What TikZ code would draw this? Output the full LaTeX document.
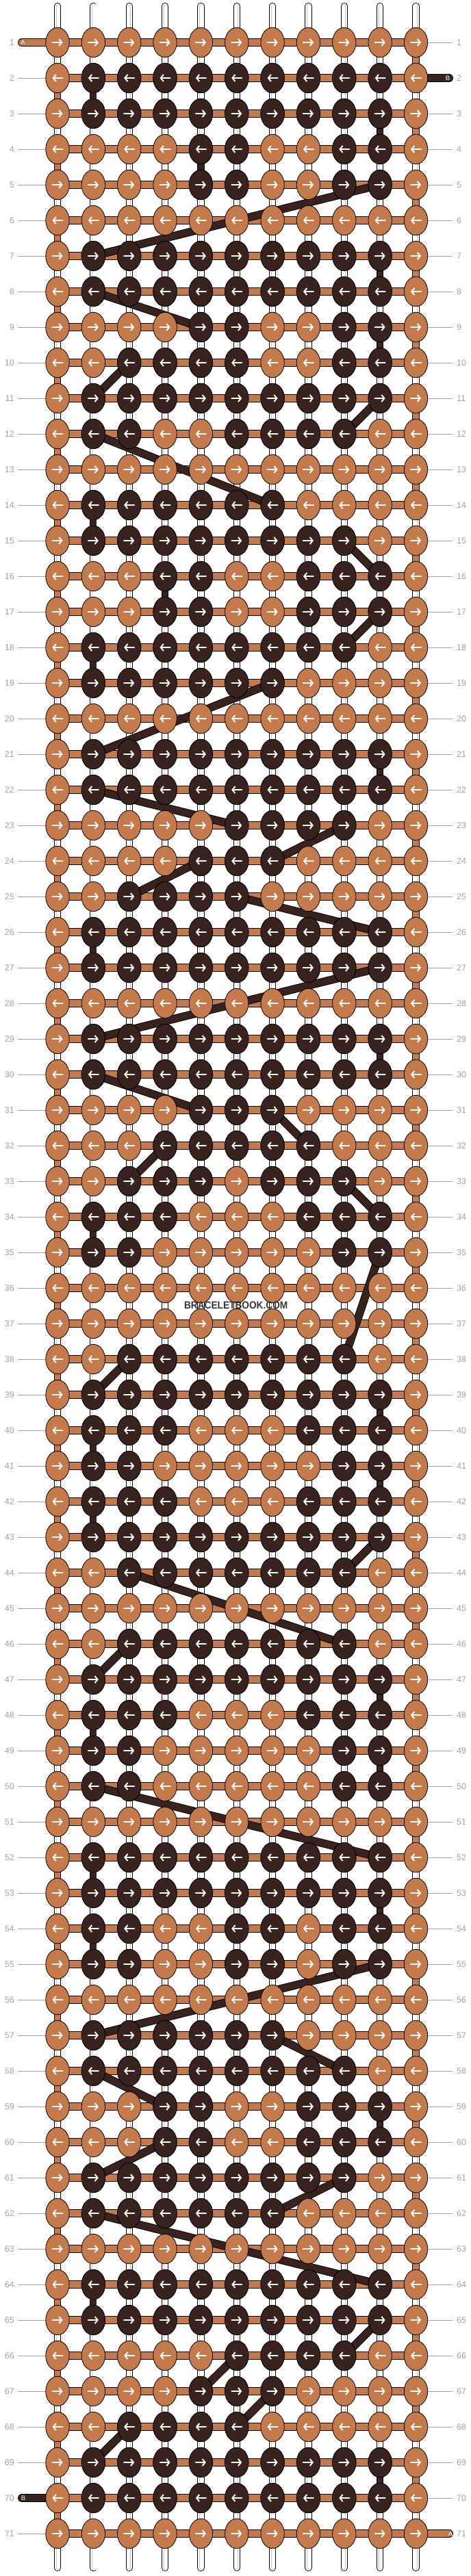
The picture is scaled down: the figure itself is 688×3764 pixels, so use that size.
\documentclass[tikz,border=0pt]{standalone}
\usepackage{fontspec}
\setmainfont{Liberation Sans}
\usepackage{xcolor}
\usetikzlibrary{arrows.meta}
\definecolor{strandA}{HTML}{C47A4A}
\definecolor{strandB}{HTML}{38231F}
\definecolor{rowgray}{HTML}{A0A0A0}
\definecolor{markgray}{HTML}{353535}
\tikzset{
	rod/.style={draw=black, line width=0.9pt, double=white, double distance=8.4pt,
			postaction={draw=gray!45, line width=0.5pt, double=white, double distance=3pt}},
	segA/.style={draw=black, line width=0.9pt, double=strandA, double distance=8.4pt},
	segB/.style={draw=black, line width=0.9pt, double=strandB, double distance=8.4pt},
	barA/.style={draw=black, line width=0.9pt, double=strandA, double distance=10pt},
	barB/.style={draw=black, line width=0.9pt, double=strandB, double distance=10pt},
	knotA/.style={draw=black, line width=0.8pt, fill=strandA},
	knotB/.style={draw=black, line width=0.8pt, fill=strandB},
	knotarrow/.style={white, line width=2pt, line cap=round, line join=round,
			-{Straight Barb[length=4pt, width=10pt]}},
	rowlabel/.style={text=rowgray, inner sep=0pt, font=\fontsize{12.5}{12.5}\selectfont},
	endlabel/.style={text=white, inner sep=0pt, font=\fontsize{9.5}{9.5}\selectfont}
}

\begin{document}
\begin{tikzpicture}[x=1pt, y=-1pt]
        \useasboundingbox (0,0) rectangle (688,3764);

        % Grid of knot centres
        \foreach \r in {1,...,71}
            \foreach \c in {1,...,11}
                \coordinate (p-\r-\c) at ({84+(\c-1)*52.35},{62+(\r-1)*52});

        % Loose ends of the vertical strings
        \foreach \c in {1,...,11} {
            \coordinate (top-\c) at ({84+(\c-1)*52.35},9);
            \coordinate (bot-\c) at ({84+(\c-1)*52.35},3752);
        }

        % Row numbers and guide lines
        \foreach \r in {1,...,71} {
            \node[rowlabel, anchor=east] (l-\r) at (21,{62+(\r-1)*52}) {\r};
            \node[rowlabel, anchor=west] (r-\r) at (667,{62+(\r-1)*52}) {\r};
            \draw[rowgray, line width=0.8pt] ([xshift=5pt]l-\r.east) -- (p-\r-1);
            \draw[rowgray, line width=0.8pt] (p-\r-11) -- ([xshift=-6pt]r-\r.west);
        }

        % Draw vertical strings
        \foreach \c in {1,...,11} {
            \draw[rod, line cap=round] (top-\c) -- (p-1-\c);
            \draw[rod, line cap=round] (p-71-\c) -- (bot-\c);
            \foreach \r [evaluate=\r as \n using int(\r+1)] in {1,...,70}
                \draw[rod] (p-\r-\c) -- (p-\n-\c);
        }

        % Strand A turning down at the edges
        \foreach \r [evaluate=\r as \n using int(\r+1)] in {1,...,70} {
            \ifodd\r
                \draw[segA] (p-\r-11) -- (p-\n-11);
            \else
                \draw[segA] (p-\r-1) -- (p-\n-1);
            \fi
        }

        % Strand B going straight down
        \foreach \r/\c [evaluate=\r as \n using int(\r+1)] in {2/2, 3/10, 4/5, 7/10, 9/10,
                14/2, 16/4, 18/2, 21/10, 26/2, 29/10, 34/2, 39/10, 40/2, 41/10, 42/2,
                47/10, 48/2, 49/10, 52/2, 53/10, 54/2, 59/10, 64/2, 69/10}
            \draw[segB] (p-\r-\c) -- (p-\n-\c);

        % Draw rows
        \foreach \r in {1,...,71}
            \draw[barA] (p-\r-1) -- (p-\r-11);

        % Ends of strands A and B
        \coordinate (startA) at (32,62);
        \coordinate (startB) at (656,114);
        \coordinate (endB) at (32,3650);
        \coordinate (endA) at (656,3702);
        \draw[barA, line cap=round] (startA) -- (p-1-1);
        \draw[barB, line cap=round] (p-2-11) -- (startB);
        \draw[barB, line cap=round] (endB) -- (p-70-1);
        \draw[barA, line cap=round] (p-71-11) -- (endA);
        \node[endlabel] (labA1) at (33.5,62) {A};
        \node[endlabel] (labB1) at (654,114) {B};
        \node[endlabel] (labB2) at (34,3650) {B};
        \node[endlabel] (labA2) at (658,3702) {A};

        % Strand B carried behind the knots
        \foreach \a/\b in {5-10/7-2, 8-2/9-5, 10-3/11-2, 11-10/12-9, 12-2/14-7,
                15-9/16-10, 17-10/18-9, 19-7/21-2, 22-2/23-6, 23-9/24-7, 24-5/25-3,
                25-6/26-10, 27-10/29-2, 30-2/31-5, 31-7/32-8, 32-4/33-3, 33-9/34-10,
                35-10/38-9, 38-3/39-2, 43-10/44-9, 44-3/46-9, 46-3/47-2, 50-2/52-10,
                55-10/57-2, 57-7/58-9, 58-2/59-4, 60-4/61-2, 61-9/62-7, 62-2/64-10,
                65-10/66-9, 66-6/67-5, 67-7/68-6, 68-3/69-2}
            \draw[barB] (p-\a) -- (p-\b);

        % Draw knots
        \foreach \r in {1,...,71}
            \foreach \c in {1,...,11}
                \draw[knotA] (p-\r-\c) ellipse [x radius=17.2pt, y radius=21.7pt];

        % Knots in colour B
        \foreach \r/\cols in {2/{2,...,10}, 3/{2,...,10}, 4/{5,6,9,10}, 5/{5,6,9,10},
                7/{2,...,10}, 8/{2,...,10}, 9/{5,6,9,10}, 10/{3,4,5,6,9,10},
                11/{2,...,10}, 12/{2,3,6,7,8,9},
                14/{2,...,7}, 15/{2,...,9}, 16/{4,5,8,9,10}, 17/{4,5,8,9,10},
                18/{2,...,9}, 19/{2,...,7},
                21/{2,...,10}, 22/{2,...,10}, 23/{6,7,8,9}, 24/{5,6,7}, 25/{3,4,5,6},
                26/{2,...,10}, 27/{2,...,10},
                29/{2,...,10}, 30/{2,...,10}, 31/{5,6,7}, 32/{4,...,8},
                33/{3,4,5,7,8,9}, 34/{2,3,4,8,9,10}, 35/{2,3,9,10},
                38/{3,...,9}, 39/{2,...,10}, 40/{2,3,4,8,9,10}, 41/{2,3,9,10},
                42/{2,3,4,8,9,10}, 43/{2,...,10}, 44/{3,...,9},
                46/{3,...,9}, 47/{2,...,10}, 48/{2,3,4,8,9,10}, 49/{2,3,9,10}, 50/{2,3,9,10},
                52/{2,...,10}, 53/{2,...,10}, 54/{2,3,6,7,9,10}, 55/{2,3,6,7,9,10},
                57/{2,...,7}, 58/{2,...,9}, 59/{4,5,8,9,10}, 60/{4,5,8,9,10},
                61/{2,...,9}, 62/{2,...,7},
                64/{2,...,10}, 65/{2,...,10}, 66/{6,7,8,9}, 67/{5,6,7}, 68/{3,4,5,6},
                69/{2,...,10}, 70/{2,...,10}}
            \foreach \c in \cols
                \draw[knotB] (p-\r-\c) ellipse [x radius=17.2pt, y radius=21.7pt];

        % Knot arrows: odd rows right, even rows left
        \foreach \r in {1,...,71}
            \foreach \c in {1,...,11} {
                \ifodd\r
                    \draw[knotarrow] ([xshift=-7.5pt]p-\r-\c) -- ([xshift=7.5pt]p-\r-\c);
                \else
                    \draw[knotarrow] ([xshift=7.5pt]p-\r-\c) -- ([xshift=-7.5pt]p-\r-\c);
                \fi
            }

        % Site mark
        \node[text=markgray, inner sep=0pt, xscale=0.9,
            font=\bfseries\fontsize{15.2}{15.2}\selectfont] (mark) at (344.7,1907) {BRACELETBOOK.COM};

    \end{tikzpicture}
\end{document}
